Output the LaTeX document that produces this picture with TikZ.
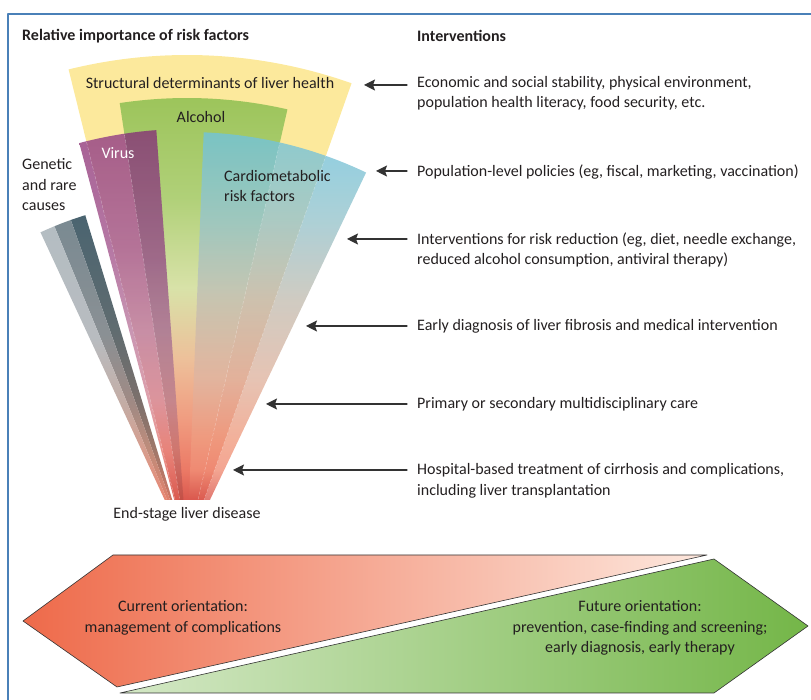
\documentclass[tikz,border=0pt]{standalone}
\usepackage{fontspec}
\setmainfont{Carlito}
\usetikzlibrary{arrows.meta}

\definecolor{ink}{HTML}{231F20}
\definecolor{arrowgray}{HTML}{333333}
\definecolor{framecol}{HTML}{4A80B8}
\definecolor{fanred}{HTML}{D04A46}
\definecolor{fanrose}{HTML}{DA584E}
\definecolor{fansalm}{HTML}{EC7A66}
\definecolor{fanpeach}{HTML}{F09C80}
% alcohol
\definecolor{alcsand}{HTML}{EDC09A}
\definecolor{alcpale}{HTML}{D8E2A8}
\definecolor{alcmid}{HTML}{B0D078}
\definecolor{alctop}{HTML}{9CC45A}
% virus
\definecolor{virsalm}{HTML}{E8847C}
\definecolor{virpink}{HTML}{DA94A0}
\definecolor{virmauve}{HTML}{C288A8}
\definecolor{virmid}{HTML}{AC6698}
\definecolor{virtop}{HTML}{9A4A86}
% cardiometabolic
\definecolor{carsalm}{HTML}{F08E76}
\definecolor{carsand}{HTML}{E0B4A0}
\definecolor{cargray}{HTML}{C4BEB2}
\definecolor{carmid}{HTML}{98C4CC}
\definecolor{cartop}{HTML}{70C3DB}
% structural
\definecolor{strsand}{HTML}{F8D8A0}
\definecolor{strtop}{HTML}{FCE99C}
% genetic (light, mid, dark)
\definecolor{gla}{HTML}{E06A5C}\definecolor{glb}{HTML}{E88672}\definecolor{glc}{HTML}{D89C8C}
\definecolor{gld}{HTML}{C4ACA4}\definecolor{gle}{HTML}{B8BCC0}\definecolor{glf}{HTML}{B4BDC2}
\definecolor{gma}{HTML}{D86658}\definecolor{gmb}{HTML}{E0806C}\definecolor{gmc}{HTML}{C08C7A}
\definecolor{gmd}{HTML}{A08A84}\definecolor{gme}{HTML}{8A9094}\definecolor{gmf}{HTML}{7A8A92}
\definecolor{gda}{HTML}{D06456}\definecolor{gdb}{HTML}{D07664}\definecolor{gdc}{HTML}{A0786A}
\definecolor{gdd}{HTML}{7C706C}\definecolor{gde}{HTML}{606C70}\definecolor{gdf}{HTML}{4A6470}
% orientation arrows
\definecolor{curleft}{HTML}{EE6A4A}
\definecolor{curright}{HTML}{FDE8DE}
\definecolor{futleft}{HTML}{D4E8C6}
\definecolor{futright}{HTML}{74B648}

\pgfdeclareverticalshading{strsh}{100bp}{color(0bp)=(fanred); color(25bp)=(fanred); color(33bp)=(fansalm); color(40bp)=(fanpeach); color(52bp)=(strsand); color(62bp)=(strtop); color(100bp)=(strtop)}
\pgfdeclareverticalshading{alcsh}{100bp}{color(0bp)=(fanred); color(25bp)=(fanred); color(30.3bp)=(fanrose); color(33.7bp)=(fansalm); color(39.2bp)=(fanpeach); color(45.9bp)=(alcsand); color(53.7bp)=(alcpale); color(63.7bp)=(alcmid); color(75bp)=(alctop); color(100bp)=(alctop)}
\pgfdeclareverticalshading{virsh}{100bp}{color(0bp)=(fanred); color(25bp)=(fanred); color(30.7bp)=(fanrose); color(36.7bp)=(virsalm); color(42.7bp)=(virpink); color(51bp)=(virmauve); color(60.6bp)=(virmid); color(75bp)=(virtop); color(100bp)=(virtop)}
\pgfdeclareverticalshading{carsh}{100bp}{color(0bp)=(fanred); color(25bp)=(fanred); color(30.8bp)=(fanrose); color(34.4bp)=(carsalm); color(38bp)=(fanpeach); color(45.2bp)=(carsand); color(54.8bp)=(cargray); color(64.4bp)=(carmid); color(75bp)=(cartop); color(100bp)=(cartop)}
\pgfdeclareverticalshading{glsh}{100bp}{color(0bp)=(gla); color(25bp)=(gla); color(32.2bp)=(glb); color(39.7bp)=(glc); color(47.2bp)=(gld); color(57.7bp)=(gle); color(75bp)=(glf); color(100bp)=(glf)}
\pgfdeclareverticalshading{gmsh}{100bp}{color(0bp)=(gma); color(25bp)=(gma); color(32.2bp)=(gmb); color(39.7bp)=(gmc); color(47.2bp)=(gmd); color(57.7bp)=(gme); color(75bp)=(gmf); color(100bp)=(gmf)}
\pgfdeclareverticalshading{gdsh}{100bp}{color(0bp)=(gda); color(25bp)=(gda); color(32.2bp)=(gdb); color(39.7bp)=(gdc); color(47.2bp)=(gdd); color(57.7bp)=(gde); color(75bp)=(gdf); color(100bp)=(gdf)}

\begin{document}
\begin{tikzpicture}[line cap=round,line join=round,x=1pt,y=1pt,
  >={Stealth[length=11pt,width=11pt,inset=2pt]},
  lbl/.style={font=\fontsize{16pt}{20.5pt}\selectfont,text=ink,inner sep=0pt,align=left},
  hd/.style={lbl,font=\fontsize{16pt}{20.5pt}\selectfont\bfseries},
  mid/.style={lbl,align=center},
  pointer/.style={->,arrowgray,line width=1.3pt},
  seam/.style={white,opacity=.45,line width=.35pt,dash pattern=on 3pt off 2pt},
  orient/.style={draw=arrowgray,line width=.6pt}]
\useasboundingbox (0,0) rectangle (811,700);
\draw [framecol,line width=1.3pt] (8,0) -- (8,686) -- (811,686);

%fan of risk factors
\begin{scope}
\clip (0,200) rectangle (811,700);
\begin{scope}[shift={(187,152)}]
\shade [shading=strsh] (0,0) -- (70.5:493) arc[start angle=70.5,end angle=103.9,radius=493] -- cycle;%structural
\shade [shading=alcsh] (0,0) -- (77.1:450) arc[start angle=77.1,end angle=98.6,radius=450] -- cycle;%alcohol
\shade [shading=carsh,opacity=.8] (0,0) -- (64.5:416) arc[start angle=64.5,end angle=87.7,radius=416] -- cycle;%cardio
\shade [shading=virsh,opacity=.88] (0,0) -- (94.2:419) arc[start angle=94.2,end angle=104.9,radius=419] -- cycle;%virus
\fill [black,opacity=.1] (0,0) -- (94.2:419) arc[start angle=94.2,end angle=98.6,radius=419] -- cycle;
\shade [shading=gdsh] (0,0) -- (107:348) arc[start angle=107,end angle=109.5,radius=348] -- cycle;%genetic
\shade [shading=gmsh] (0,0) -- (109.5:348) arc[start angle=109.5,end angle=112.4,radius=348] -- cycle;
\shade [shading=glsh] (0,0) -- (112.4:348) arc[start angle=112.4,end angle=114.9,radius=348] -- cycle;
\foreach \a/\r in {98.6/419,103.9/419,77.1/416,70.5/416}
  \draw [seam] (0,0) -- (\a:\r);
\end{scope}
\end{scope}

\node [hd,anchor=west] (hrisk) at (22,664) {Relative importance of risk factors};
\node [hd,anchor=west] (hint) at (417,664) {Interventions};

\node [mid] (struct) at (210,617) {Structural determinants of liver health};
\node [mid] (alc) at (201,583) {Alcohol};
\node [mid,text=white] (virus) at (118,547) {Virus};
\node [lbl,anchor=west] (cardio) at (224,514) {Cardiometabolic\\risk factors};
\node [lbl,anchor=west] (genetic) at (22,515) {Genetic\\and rare\\causes};
\node [mid] (esld) at (187,186) {End-stage liver disease};

%interventions
\node [lbl,anchor=west] (i1) at (417,607) {Economic and social stability, physical environment,\\population health literacy, food security, etc.};
\node [lbl,anchor=west] (i2) at (417,528) {Population-level policies (eg, fiscal, marketing, vaccination)};
\node [lbl,anchor=west] (i3) at (417,450) {Interventions for risk reduction (eg, diet, needle exchange,\\reduced alcohol consumption, antiviral therapy)};
\node [lbl,anchor=west] (i4) at (417,374) {Early diagnosis of liver fibrosis and medical intervention};
\node [lbl,anchor=west] (i5) at (417,296) {Primary or secondary multidisciplinary care};
\node [lbl,anchor=west] (i6) at (417,219) {Hospital-based treatment of cirrhosis and complications,\\including liver transplantation};

\coordinate (t1) at (364,615);
\coordinate (t2) at (376,529);
\coordinate (t3) at (347,461);
\coordinate (t4) at (306,374);
\coordinate (t5) at (266,296);
\coordinate (t6) at (233,230);
\foreach \i in {1,...,6}
  \draw [pointer] ([xshift=-10pt]i\i.west |- t\i) -- (t\i);

%orientation
\shadedraw [orient,left color=curleft,right color=curright] (23,79) -- (113,145) -- (707,145) -- (117,13) -- cycle;
\shadedraw [orient,left color=futleft,right color=futright] (120,7) -- (714,141) -- (808,74) -- (714,7) -- cycle;
\node [mid] (current) at (183,82) {Current orientation:\\management of complications};
\node [mid] (future) at (640,72) {Future orientation:\\prevention, case-finding and screening;\\early diagnosis, early therapy};
\end{tikzpicture}
\end{document}
